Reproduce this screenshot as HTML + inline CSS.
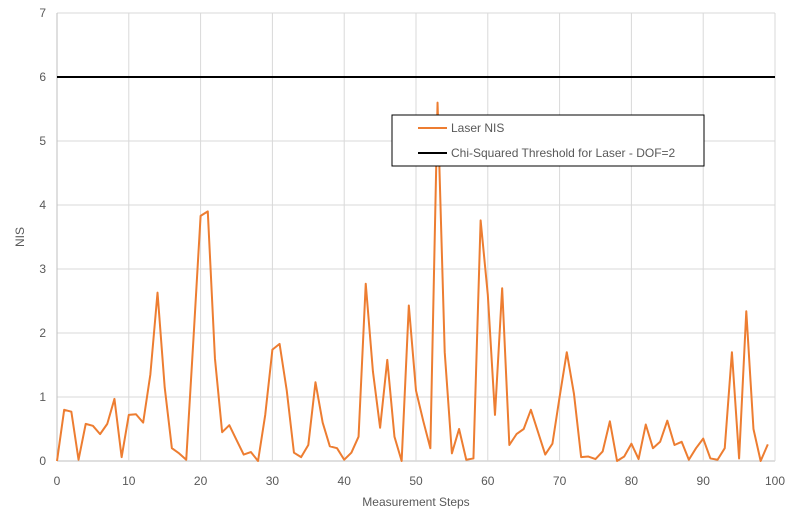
<!DOCTYPE html>
<html><head><meta charset="utf-8"><style>
body{margin:0;background:#fff;font-family:"Liberation Sans",sans-serif;}
svg text{font-family:"Liberation Sans",sans-serif;fill:#595959;font-size:12px;}
</style></head><body>
<svg id="chart" width="797" height="514">
<g id="grid"></g><g id="axes"></g><g id="series"></g>
<text x="24" y="237" text-anchor="middle" transform="rotate(-90 24 237)">NIS</text>
<text x="416" y="506" text-anchor="middle">Measurement Steps</text>
<g>
<rect x="392" y="115" width="312" height="51" fill="#fff" stroke="#000" stroke-width="1"/>
<line x1="418" y1="128" x2="447" y2="128" stroke="#ED7D31" stroke-width="2"/>
<text x="451" y="132">Laser NIS</text>
<line x1="418" y1="153" x2="447" y2="153" stroke="#000" stroke-width="2"/>
<text x="451" y="157">Chi-Squared Threshold for Laser - DOF=2</text>
</g>
</svg>
<script>
const nisValues=[0,0.8,0.77,0.02,0.58,0.55,0.42,0.58,0.97,0.06,0.72,0.73,0.6,1.35,2.63,1.15,0.2,0.12,0.02,1.9,3.83,3.9,1.6,0.45,0.56,0.33,0.1,0.14,0,0.72,1.74,1.83,1.1,0.13,0.06,0.25,1.23,0.6,0.23,0.2,0.02,0.13,0.38,2.77,1.4,0.52,1.58,0.38,0,2.43,1.1,0.63,0.2,5.6,1.7,0.12,0.5,0.02,0.04,3.76,2.6,0.72,2.7,0.25,0.42,0.5,0.8,0.45,0.1,0.27,1.0,1.7,1.05,0.06,0.07,0.03,0.15,0.62,0,0.07,0.27,0.03,0.57,0.2,0.3,0.63,0.25,0.3,0.02,0.2,0.35,0.04,0.02,0.2,1.7,0.04,2.34,0.5,0,0.26];
const threshold=[6];
const xTicks=[0,10,20,30,40,50,60,70,80,90,100];
const yTicks=[0,1,2,3,4,5,6,7];
const L=57,R=775,T=13,B=461;
const xs=v=>L+(R-L)*v/100, ys=v=>B-(B-T)*v/7;
const NS="http://www.w3.org/2000/svg";
function mk(tag,attrs,parent){const e=document.createElementNS(NS,tag);for(const k in attrs)e.setAttribute(k,attrs[k]);document.getElementById(parent).appendChild(e);return e;}
yTicks.forEach(t=>{
 const g=mk('line',{x1:L,x2:R,y1:ys(t),y2:ys(t),stroke:t===0?'#bfbfbf':'#d9d9d9','stroke-width':1},'grid');
 
 
 const tx=mk('text',{x:46,y:ys(t)+4,'text-anchor':'end'},'axes');tx.textContent=t;
 
 
});
xTicks.forEach(t=>{
 const g=mk('line',{x1:xs(t),x2:xs(t),y1:T,y2:B,stroke:t===0?'#bfbfbf':'#d9d9d9','stroke-width':1},'grid');
 
 
 const tx=mk('text',{x:xs(t),y:485,'text-anchor':'middle'},'axes');tx.textContent=t;
 
 
});
const th=mk('line',{x1:L,x2:R,y1:ys(threshold[0]),y2:ys(threshold[0]),stroke:'#000','stroke-width':2},'series');


const p=mk('polyline',{points:nisValues.map((v,i)=>xs(i)+','+ys(v)).join(' '),fill:'none',stroke:'#ED7D31','stroke-width':2,'stroke-linejoin':'round'},'series');


</script>
</body></html>
